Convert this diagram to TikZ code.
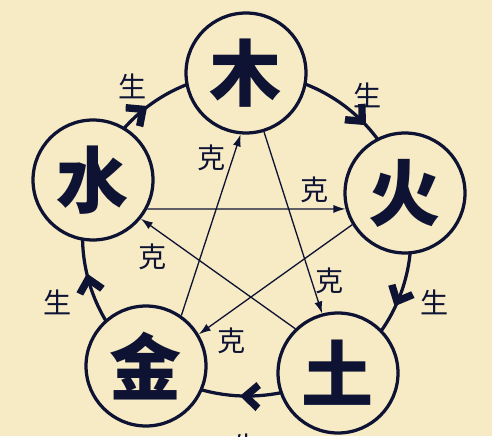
\documentclass[tikz,border=0pt]{standalone}
\usepackage{fontspec}
\newfontfamily\cjk{Noto Sans CJK SC}
\newfontfamily\cjkheavy{Noto Sans CJK SC Black}
\usetikzlibrary{arrows.meta,backgrounds}
\definecolor{bg}{RGB}{247,235,198}
\definecolor{ink}{RGB}{14,19,52}
\begin{document}
\begin{tikzpicture}[x=0.02cm,y=0.02cm,
  elem/.style={circle,draw=ink,line width=0.065cm,fill=bg,minimum size=2.4cm,inner sep=0pt,text=ink,font=\cjkheavy\fontsize{41}{41}\selectfont},
  lbl/.style={text=ink,inner sep=0pt,font=\cjk\fontsize{16}{16}\selectfont},
  ke/.style={draw=ink,line width=0.75pt,-{Latex[length=0.24cm,width=0.16cm]}},
  sheng/.style={draw=ink,line width=0.065cm},
  chev/.pic={\fill[ink] (0,0) -- (-16,14.5) -- (-20.6,8.7) -- (-11,0) -- (-20.6,-8.7) -- (-16,-14.5) -- cycle;},
]
\useasboundingbox (0,0) rectangle (492,436);
% elements
\node[elem] (mu)   at (246,363) {木};
\node[elem] (huo)  at (405,243) {火};
\node[elem] (shui) at (93,256)  {水};
\node[elem] (jin)  at (146,70)  {金};
\node[elem] (tu)   at (338,63)  {土};
% generating cycle
\begin{scope}[on background layer]
  \fill[bg] (0,0) rectangle (492,436);
  \draw[sheng] (shui.center) arc[start angle=159.57,end angle=90,radius=3.28cm];
  \draw[sheng] (mu.center) arc[start angle=90,end angle=15.47,radius=3.28cm];
  \draw[sheng] (huo.center) arc[start angle=15.47,end angle=-55.9,radius=3.28cm];
  \draw[sheng] (tu.center) to[bend left=28] (jin.center);
  \draw[sheng] (jin.center) arc[start angle=232.2,end angle=159.57,radius=3.28cm];
  \pic[rotate=37]   at (147.3,330.0) {chev};
  \pic[rotate=-47]  at (365.9,310.8) {chev};
  \pic[rotate=-115] at (394.6,129.7) {chev};
  \pic[rotate=178]  at (240,40)      {chev};
  \pic[rotate=103]  at (87,162.5)    {chev};
\end{scope}
% controlling star
\draw[ke] (jin.55) -- (mu.265);
\draw[ke] (mu.287) -- (tu.105);
\draw[ke] (shui.-28) -- (huo.195);
\draw[ke] (huo.211) -- (jin.31);
\draw[ke] (tu.134) -- (shui.321);
% labels
\node[lbl] (s1) at (133,350) {生};
\node[lbl] (s2) at (368,341) {生};
\node[lbl] (s3) at (435,134) {生};
\node[lbl] (s4) at (58,134)  {生};
\node[lbl] (s5) at (247,-10) {生};
\node[lbl] (k1) at (212,278) {克};
\node[lbl] (k2) at (315,246) {克};
\node[lbl] (k3) at (153,179) {克};
\node[lbl] (k4) at (330,155) {克};
\node[lbl] (k5) at (232,95)  {克};
\end{tikzpicture}
\end{document}
